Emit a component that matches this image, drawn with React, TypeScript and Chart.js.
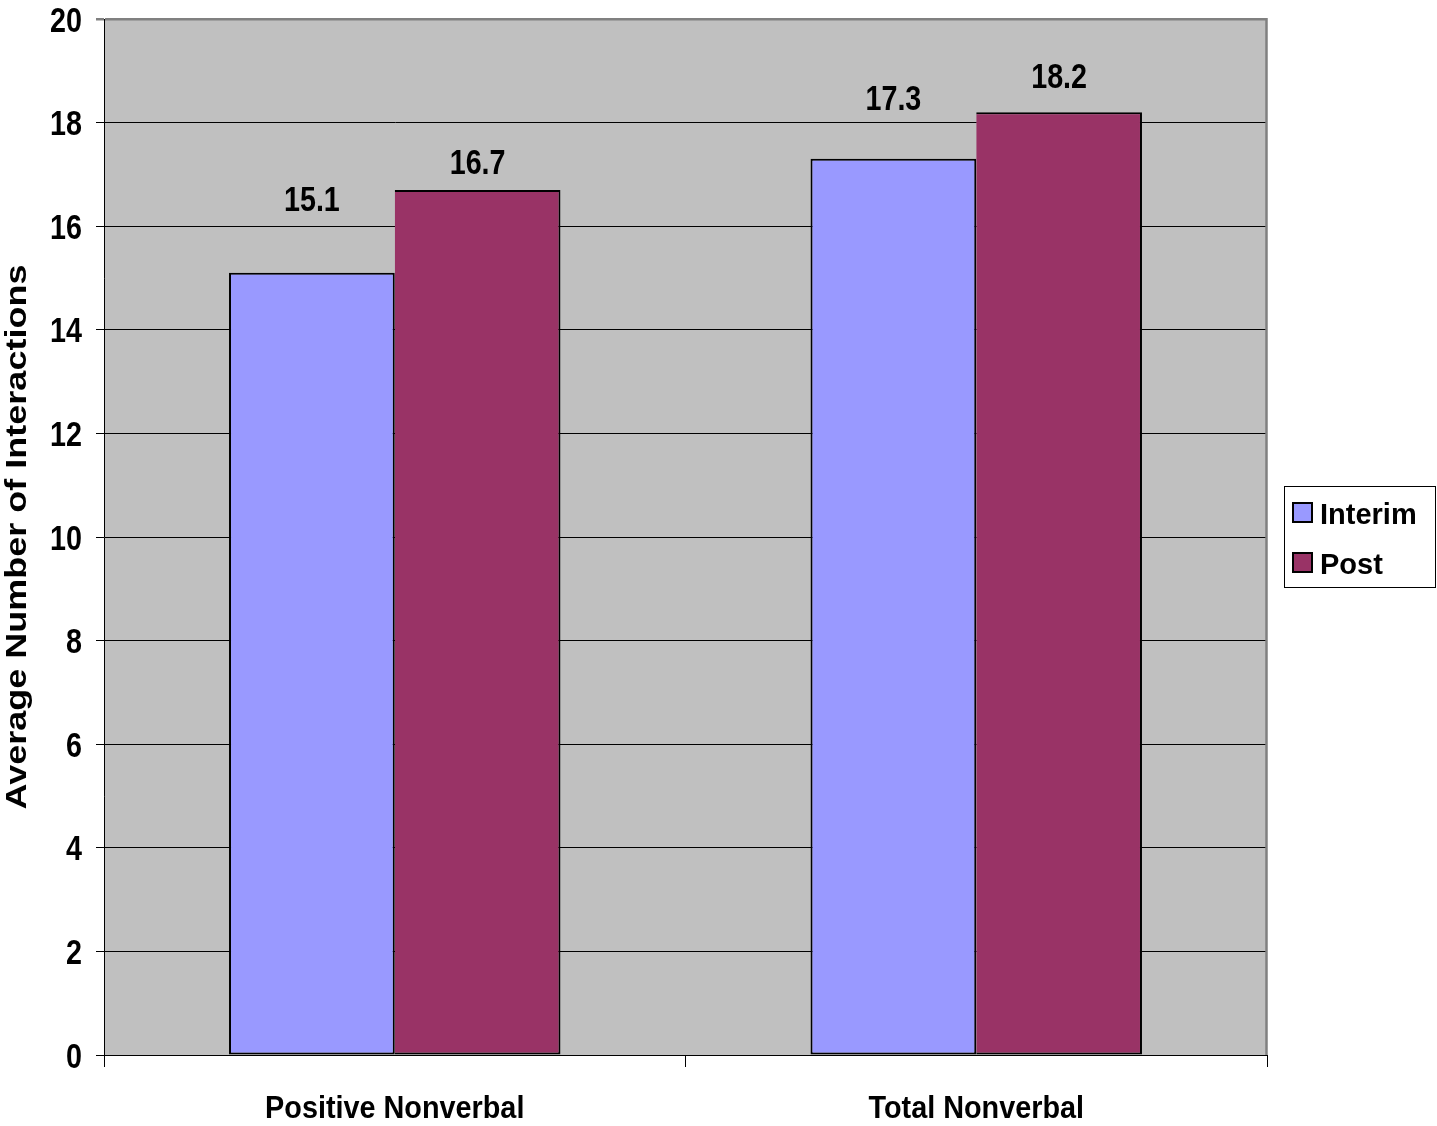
import { useEffect, useRef } from 'react';
import { Chart, registerables } from 'chart.js';

Chart.register(...registerables);

// ---- chart data ----
const categories = ['Positive Nonverbal', 'Total Nonverbal'];
const seriesNames = ['Interim', 'Post'];
const interimValues = [15.1, 17.3];
const postValues = [16.7, 18.2];
const yMin = 0;
const yMax = 20;
const yStep = 2;
const yAxisTitle = 'Average Number of Interactions';

// ---- styling ----
const FONT = '"Liberation Sans", Arial, Helvetica, sans-serif';
const INTERIM_COLOR = '#9999FF';
const POST_COLOR = '#993366';
const PLOT_BG = '#C0C0C0';
const FRAME_GRAY = '#808080';
// how far each value label sits above its bar top (per series, per category)
const LABEL_RISE = [
  [74, 61],
  [28, 37],
];

function drawText(
  ctx: CanvasRenderingContext2D,
  text: string,
  x: number,
  y: number,
  size: number,
  sx: number,
  align: CanvasTextAlign
) {
  ctx.save();
  ctx.translate(x, y);
  ctx.scale(sx, 1);
  ctx.font = `bold ${size}px ${FONT}`;
  ctx.textAlign = align;
  ctx.textBaseline = 'alphabetic';
  ctx.fillStyle = '#000';
  ctx.fillText(text, 0, 0);
  ctx.restore();
}

const plotFrame = {
  id: 'plotFrame',
  beforeDraw(chart: any) {
    const { ctx, chartArea: a } = chart;
    ctx.save();
    ctx.fillStyle = PLOT_BG;
    ctx.fillRect(a.left, a.top, a.right - a.left, a.bottom - a.top);
    ctx.restore();
  },
  beforeDatasetsDraw(chart: any) {
    const { ctx, chartArea: a } = chart;
    ctx.save();
    ctx.strokeStyle = FRAME_GRAY;
    ctx.lineWidth = 2.5;
    ctx.beginPath();
    ctx.moveTo(a.right - 0.5, a.top - 1);
    ctx.lineTo(a.right - 0.5, a.bottom);
    ctx.stroke();
    ctx.restore();
  },
};

const valueLabels = {
  id: 'valueLabels',
  afterDatasetsDraw(chart: any) {
    const ctx = chart.ctx as CanvasRenderingContext2D;
    chart.data.datasets.forEach((ds: any, i: number) => {
      const meta = chart.getDatasetMeta(i);
      meta.data.forEach((bar: any, j: number) => {
        const v = ds.data[j] as number;
        const cy = bar.y - LABEL_RISE[i][j];
        drawText(ctx, v.toFixed(1), bar.x, cy + 12.5, 35, 0.82, 'center');
      });
    });
  },
};

const axisText = {
  id: 'axisText',
  afterDraw(chart: any) {
    const ctx = chart.ctx as CanvasRenderingContext2D;
    const a = chart.chartArea;
    const ys = chart.scales.y;
    const xs = chart.scales.x;

    // y tick labels
    ys.ticks.forEach((t: any) => {
      drawText(ctx, String(t.value), a.left - 22, ys.getPixelForValue(t.value) + 12.5, 35, 0.82, 'right');
    });

    // category labels
    categories.forEach((c, j) => {
      drawText(ctx, c, xs.getPixelForValue(j), a.bottom + 63, 32, 0.9, 'center');
    });

    // y axis title
    ctx.save();
    ctx.translate(26, (a.top + a.bottom) / 2);
    ctx.scale(0.8, 1);
    ctx.rotate(-Math.PI / 2);
    ctx.font = `bold 36px ${FONT}`;
    ctx.textAlign = 'center';
    ctx.textBaseline = 'alphabetic';
    ctx.fillStyle = '#000';
    ctx.fillText(yAxisTitle, 0, 0);
    ctx.restore();

    // legend
    const boxLeft = a.right + 17;
    const boxTop = 486;
    ctx.save();
    ctx.fillStyle = '#fff';
    ctx.fillRect(boxLeft, boxTop, 151, 101);
    ctx.strokeStyle = '#000';
    ctx.lineWidth = 1;
    ctx.strokeRect(boxLeft + 0.5, boxTop + 0.5, 151, 101);
    chart.data.datasets.forEach((ds: any, i: number) => {
      const rowTop = boxTop + 17 + i * 50;
      ctx.fillStyle = ds.backgroundColor;
      ctx.fillRect(boxLeft + 9, rowTop, 19, 19);
      ctx.strokeStyle = '#000';
      ctx.lineWidth = 2;
      ctx.strokeRect(boxLeft + 9, rowTop, 19, 19);
      drawText(ctx, ds.label, boxLeft + 36, rowTop + 21, 29, 1, 'left');
    });
    ctx.restore();
  },
};

export default function App() {
  const canvasRef = useRef<HTMLCanvasElement | null>(null);

  useEffect(() => {
    const canvas = canvasRef.current;
    if (!canvas) return;
    const chart = new Chart(canvas, {
      type: 'bar',
      data: {
        labels: categories,
        datasets: [
          {
            label: seriesNames[0],
            data: interimValues,
            backgroundColor: INTERIM_COLOR,
            borderColor: '#000',
            borderWidth: 2,
            borderSkipped: false,
          },
          {
            label: seriesNames[1],
            data: postValues,
            backgroundColor: POST_COLOR,
            borderColor: '#000',
            borderWidth: 2,
            // shares its left edge with the neighbouring Interim bar
            borderSkipped: 'left',
          },
        ],
      },
      options: {
        responsive: false,
        animation: false,
        events: [],
        layout: { padding: { left: 0, top: 19, right: 170, bottom: 0 } },
        datasets: { bar: { categoryPercentage: 0.57, barPercentage: 1 } },
        plugins: {
          legend: { display: false },
          title: { display: false },
          tooltip: { enabled: false },
        },
        scales: {
          x: {
            offset: true,
            ticks: { display: false },
            grid: {
              display: true,
              offset: true,
              drawOnChartArea: false,
              drawTicks: true,
              tickLength: 12,
              color: '#000',
              lineWidth: 1,
            },
            border: { display: true, color: '#000', width: 1 },
            afterFit: (scale: any) => {
              scale.height = 71;
            },
          },
          y: {
            min: yMin,
            max: yMax,
            ticks: { display: false, stepSize: yStep },
            grid: {
              drawTicks: true,
              tickLength: 8,
              color: (c: any) => (c.tick && c.tick.value === yMax ? FRAME_GRAY : '#000'),
              lineWidth: (c: any) => (c.tick && c.tick.value === yMax ? 2.5 : 1),
            },
            border: { display: true, color: '#000', width: 1 },
            afterFit: (scale: any) => {
              scale.width = 104;
            },
          },
        },
      },
      plugins: [plotFrame, valueLabels, axisText],
    });
    return () => chart.destroy();
  }, []);

  return (
    <div style={{ position: 'fixed', left: 0, top: 0, width: 1437, height: 1126, background: '#fff' }}>
      <canvas ref={canvasRef} width={1437} height={1126} style={{ display: 'block' }} />
    </div>
  );
}
